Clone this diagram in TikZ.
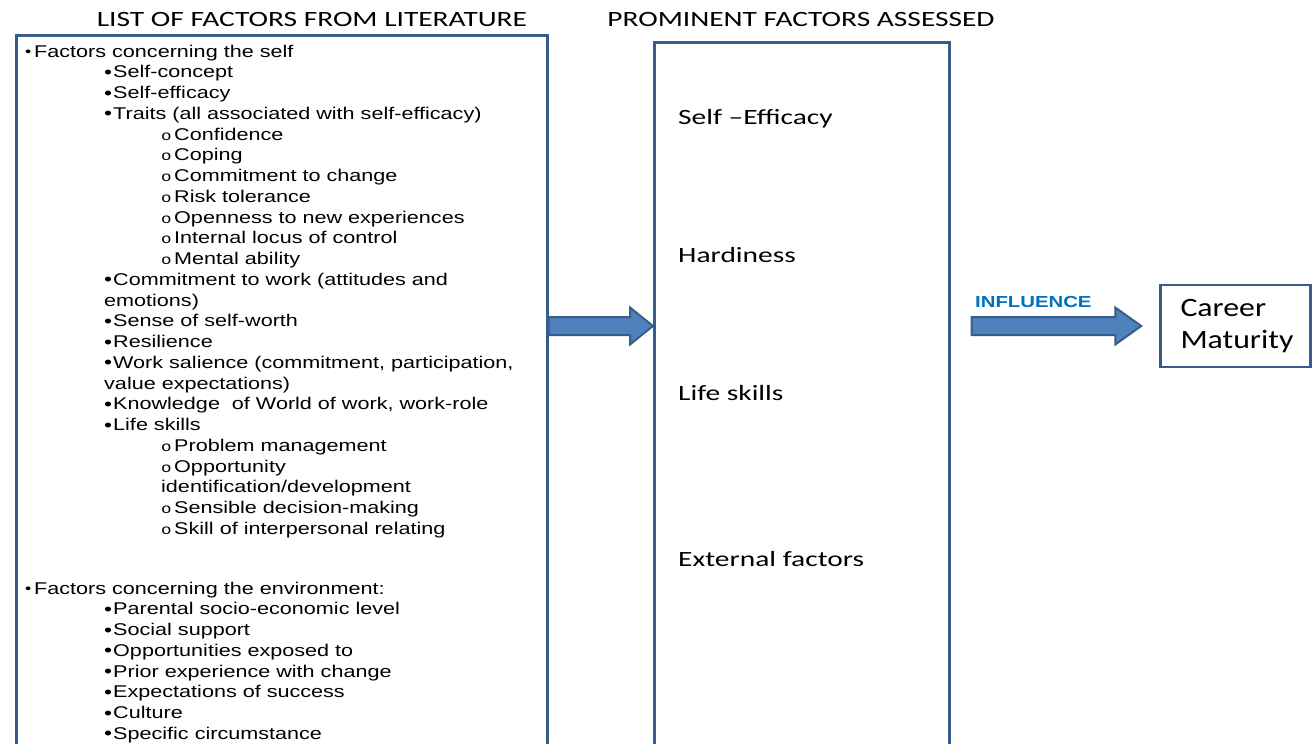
\documentclass[tikz,border=0pt]{standalone}
\usepackage{amsmath}
\usepackage{fontspec}
\usepackage{tikz}
\usetikzlibrary{calc}
\setmainfont[FakeStretch=1.35]{Carlito}
\newfontfamily\listfont[FakeStretch=1.27]{Liberation Sans}
\newfontfamily\markfont[FakeStretch=1.25]{Liberation Mono}
\newfontfamily\careerfont[FakeStretch=1.2]{Carlito}
\definecolor{boxblue}{RGB}{56,93,138}
\definecolor{arrowblue}{RGB}{79,129,189}
\definecolor{labelblue}{RGB}{0,112,192}

% bullets of the three list levels
\newcommand{\bA}{\makebox[9pt][l]{\fontsize{14}{14}\selectfont\raisebox{1pt}{•}}}
\newcommand{\bB}{\makebox[9pt][l]{\fontsize{18}{18}\selectfont\raisebox{-0.5pt}{•}}}
\newcommand{\bC}{\makebox[13pt][l]{\markfont\fontsize{14}{14}\selectfont o}}

% block arrow from #2 to #3, head length #1
\newcommand{\blockarrow}[3][23]{%
    \draw[fat] let \p1=(#2), \p2=(#3) in
        (\x1,\y1+9pt) -- (\x2-#1pt,\y1+9pt) -- (\x2-#1pt,\y1+18.5pt) -- (\x2,\y1)
        -- (\x2-#1pt,\y1-18.5pt) -- (\x2-#1pt,\y1-9pt) -- (\x1,\y1-9pt) -- cycle;}

\begin{document}
\begin{tikzpicture}[x=1pt,y=-1pt]
        \tikzstyle{frame}=[draw=boxblue, line width=2.5pt, minimum height=760pt, inner sep=0pt, anchor=north west]
        \tikzstyle{heading}=[font=\fontsize{21.8}{22}\selectfont, anchor=base, inner sep=0pt]
        \tikzstyle{factor}=[font=\fontsize{21.8}{22}\selectfont, anchor=base west, inner sep=0pt]
        \tikzstyle{item}=[font=\listfont\fontsize{17}{17}\selectfont, anchor=base west, inner sep=0pt]
        \tikzstyle{fat}=[draw=boxblue, line width=2pt, fill=arrowblue, line join=miter]

        \useasboundingbox (0,0) rectangle (1312,744);
        \clip (0,0) rectangle (1312,744);

        \node[heading] (listhead) at (312,27) {LIST OF FACTORS FROM LITERATURE};
        \node[heading] (assesshead) at (801,27) {PROMINENT FACTORS ASSESSED};

        \node[frame, minimum width=531pt] (litbox) at (15,34) {};
        \node[frame, minimum width=295pt] (assessbox) at (653,41) {};

        \foreach \ind/\bul/\txt [count=\i] in {
            0/\bA/{Factors concerning the self},
            79/\bB/{Self-concept},
            79/\bB/{Self-efficacy},
            79/\bB/{Traits (all associated with self-efficacy)},
            136/\bC/{Confidence},
            136/\bC/{Coping},
            136/\bC/{Commitment to change},
            136/\bC/{Risk tolerance},
            136/\bC/{Openness to new experiences},
            136/\bC/{Internal locus of control},
            136/\bC/{Mental ability},
            79/\bB/{Commitment to work (attitudes and},
            79//{emotions)},
            79/\bB/{Sense of self-worth},
            79/\bB/{Resilience},
            79/\bB/{Work salience (commitment, participation,},
            79//{value expectations)},
            79/\bB/{Knowledge\ \ of World of work, work-role},
            79/\bB/{Life skills},
            136/\bC/{Problem management},
            136/\bC/{Opportunity},
            136//{identification/development},
            136/\bC/{Sensible decision-making},
            136/\bC/{Skill of interpersonal relating}}
            \node[item] (self\i) at (25+\ind, 57+20.75*\i-20.75) {\bul\txt};

        \foreach \ind/\bul/\txt [count=\i] in {
            0/\bA/{Factors concerning the environment:},
            79/\bB/{Parental socio-economic level},
            79/\bB/{Social support},
            79/\bB/{Opportunities exposed to},
            79/\bB/{Prior experience with change},
            79/\bB/{Expectations of success},
            79/\bB/{Culture},
            79/\bB/{Specific circumstance}}
            \node[item] (env\i) at (25+\ind, 594+20.75*\i-20.75) {\bul\txt};

        \node[factor] (selfeff) at (678,124) {Self --Efficacy};
        \node[factor] (hardiness) at (678,262) {Hardiness};
        \node[factor] (lifeskills) at (678,400) {Life skills};
        \node[factor] (external) at (678,566) {External factors};

        \node[draw=boxblue, line width=2.5pt, minimum width=149pt, minimum height=82pt, text width=110pt,
              inner xsep=20pt, align=left, font=\careerfont\fontsize{26.5}{32}\selectfont]
              (career) at (1235.5,326) {Career\\Maturity};

        \node[font=\listfont\bfseries\fontsize{16}{16}\selectfont, text=labelblue, anchor=base west, inner sep=0pt]
              (influence) at (975,307) {INFLUENCE};

        \coordinate (a1) at (litbox.east |- 0,326);
        \coordinate (a2) at (assessbox.west |- 0,326);
        \coordinate (b1) at ($(assessbox.east |- 0,326)+(21,0)$);
        \coordinate (b2) at ($(career.west)+(-18,0)$);

        \blockarrow{a1}{a2}
        \blockarrow[26]{b1}{b2}
    \end{tikzpicture}
\end{document}
